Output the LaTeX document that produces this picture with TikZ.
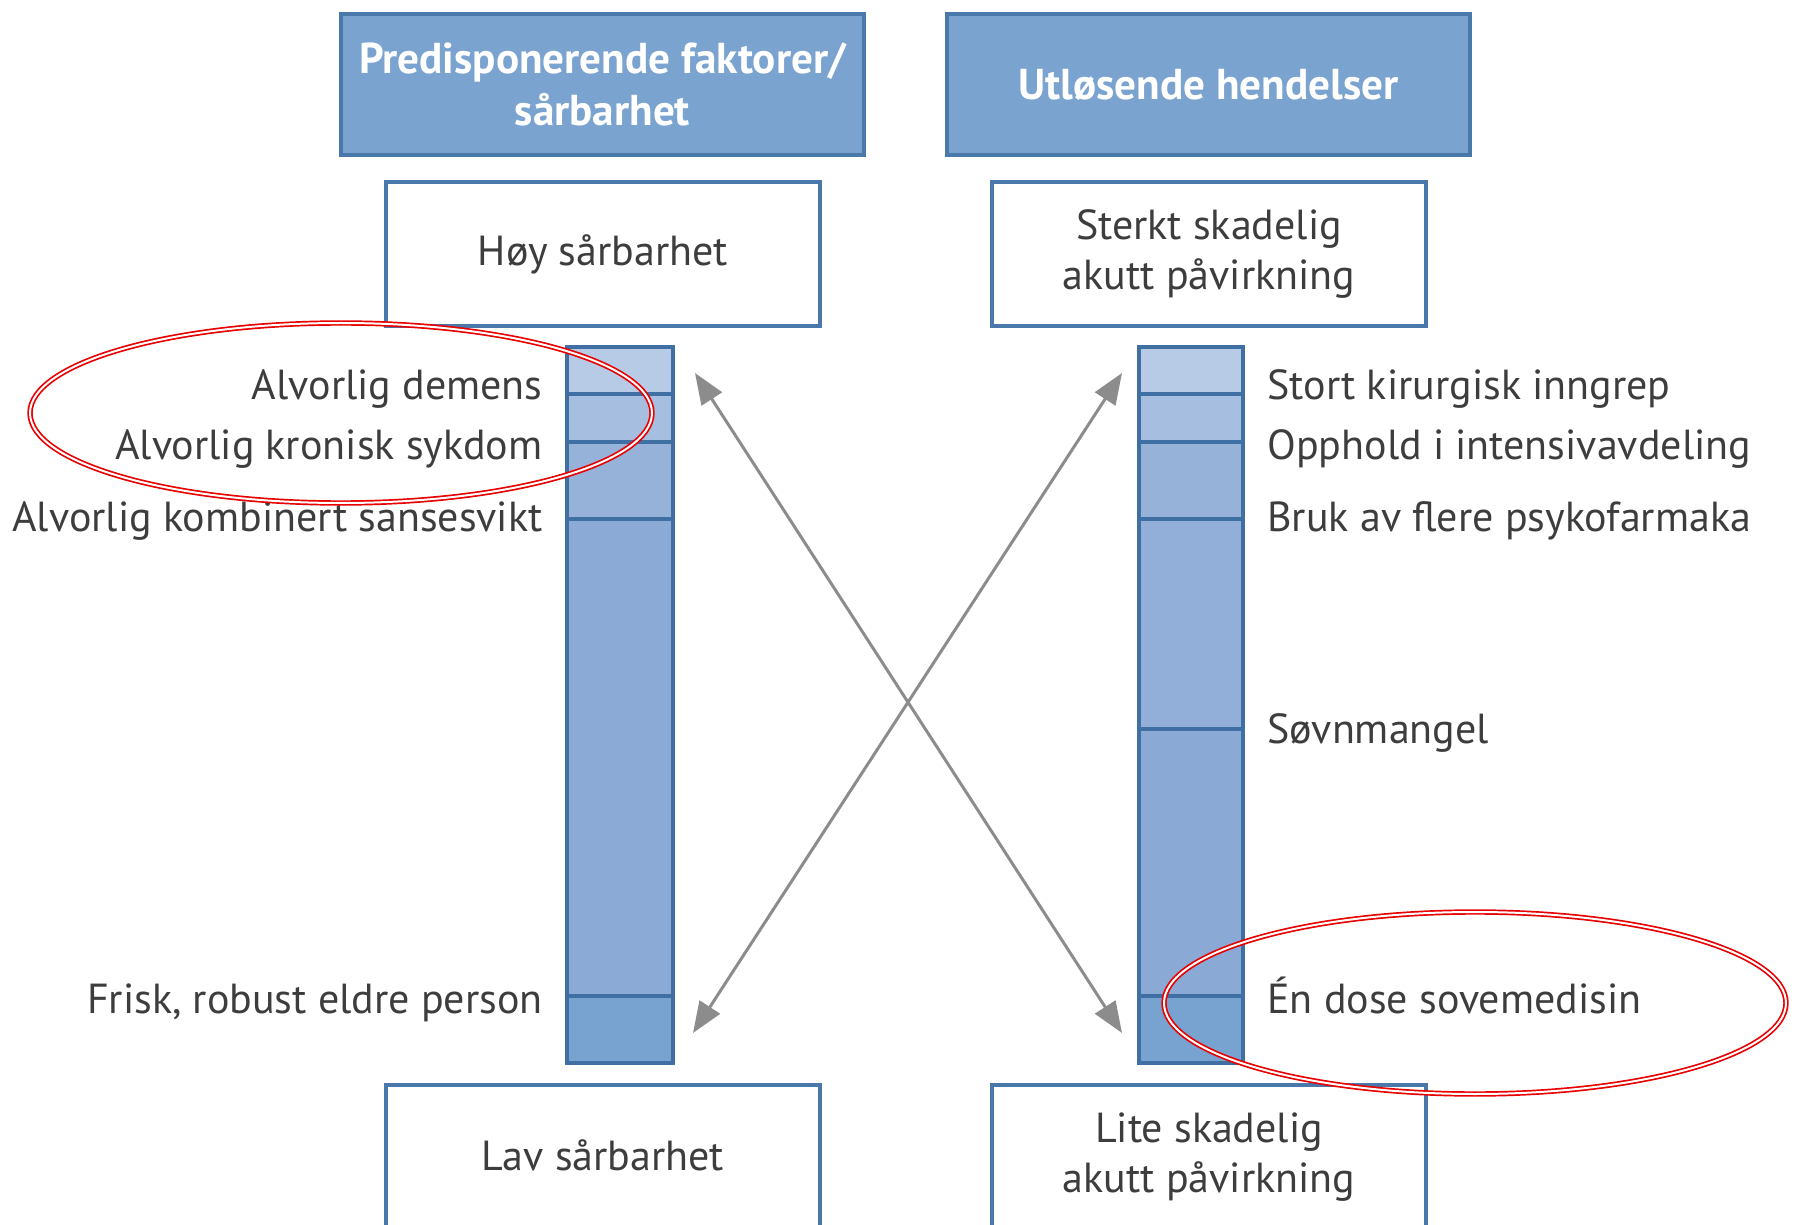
\documentclass[tikz,border=0pt]{standalone}
\usepackage{fontspec}
\setmainfont{PT Sans}
\usetikzlibrary{arrows.meta}
\definecolor{hdrfill}{HTML}{7AA3D0}
\definecolor{hdrdraw}{HTML}{4A78AA}
\definecolor{boxdraw}{HTML}{4A78AA}
\definecolor{barline}{HTML}{3F6FA3}
\definecolor{segA}{HTML}{B7CAE6}
\definecolor{segB}{HTML}{A6BEE0}
\definecolor{segC}{HTML}{96B2D9}
\definecolor{segD}{HTML}{8BABD6}
\definecolor{segDa}{HTML}{91AFD8}
\definecolor{segDb}{HTML}{8AAAD5}
\definecolor{segE}{HTML}{78A2D0}
\definecolor{txt}{HTML}{3D3D3D}
\definecolor{arrowgray}{HTML}{8C8C8C}
\definecolor{ringred}{HTML}{E80000}
\begin{document}
\begin{tikzpicture}[x=0.5pt,y=-0.5pt,
 hdr/.style={draw=hdrdraw, fill=hdrfill, line width=2pt, minimum width=261.5pt, minimum height=70.5pt, text=white, font=\fontsize{21.6}{26}\selectfont\bfseries, align=center, inner sep=0pt},
 lvlbox/.style={draw=boxdraw, fill=white, line width=2pt, minimum width=217pt, minimum height=72pt, text=txt, font=\fontsize{21}{25}\selectfont, align=center, inner sep=0pt},
 lbl/.style={text=txt, font=\fontsize{21}{26}\selectfont, inner sep=0pt},
 seg/.style={draw=barline, line width=2pt},
 link/.style={draw=arrowgray, line width=1.5pt, {Triangle[length=15.5pt,width=12pt]}-{Triangle[length=15.5pt,width=12pt]}},
 ring/.style={draw=ringred, line width=0.85pt, double=white, double distance=1pt}
]
\useasboundingbox (0,0) rectangle (1796,1225);

% headers
\node[hdr] (h1) at (602.5,84.5) {Predisponerende faktorer/\\sårbarhet};
\node[hdr] (h2) at (1208.5,84.5) {Utløsende hendelser};

% level boxes
\node[lvlbox] (hoy) at (603,254) {\raisebox{-1.5pt}{Høy sårbarhet}};
\node[lvlbox] (sterkt) at (1209,254) {\raisebox{-1.5pt}{Sterkt skadelig}\\\raisebox{-1.5pt}{akutt påvirkning}};
\node[lvlbox] (lav) at (603,1157) {\raisebox{1.5pt}{Lav sårbarhet}};
\node[lvlbox] (lite) at (1209,1157) {Lite skadelig\\akutt påvirkning};

% left bar
\fill[segA] (567,347) rectangle (673,394);
\fill[segB] (567,394) rectangle (673,442);
\fill[segC] (567,442) rectangle (673,519);
\fill[segD] (567,519) rectangle (673,996);
\fill[segE] (567,996) rectangle (673,1063);
\foreach \yy in {394,442,519,996} \draw[seg] (567,\yy) -- (673,\yy);
\draw[seg] (567,347) rectangle (673,1063);

% right bar
\fill[segA] (1139,347) rectangle (1243,394);
\fill[segB] (1139,394) rectangle (1243,442);
\fill[segC] (1139,442) rectangle (1243,519);
\fill[segDa] (1139,519) rectangle (1243,729);
\fill[segDb] (1139,729) rectangle (1243,996);
\fill[segE] (1139,996) rectangle (1243,1063);
\foreach \yy in {394,442,519,729,996} \draw[seg] (1139,\yy) -- (1243,\yy);
\draw[seg] (1139,347) rectangle (1243,1063);

% arrows
\coordinate (a1s) at (695,373);
\coordinate (a1e) at (1122,1033);
\coordinate (a2s) at (1122,373);
\coordinate (a2e) at (693,1033);
\draw[link] (a1s) -- (a1e);
\draw[link] (a2s) -- (a2e);

% left labels
\node[lbl, anchor=base east] (l1) at (543,400) {Alvorlig demens};
\node[lbl, anchor=base east] (l2) at (543,459) {Alvorlig kronisk sykdom};
\node[lbl, anchor=base east] (l3) at (543,531) {Alvorlig kombinert sansesvikt};
\node[lbl, anchor=base east] (l4) at (543,1013) {Frisk, robust eldre person};

% right labels
\node[lbl, anchor=base west] (r1) at (1267,400) {Stort kirurgisk inngrep};
\node[lbl, anchor=base west] (r2) at (1267,459) {Opphold i intensivavdeling};
\node[lbl, anchor=base west] (r3) at (1267,531) {Bruk av flere psykofarmaka};
\node[lbl, anchor=base west] (r4) at (1267,743) {Søvnmangel};
\node[lbl, anchor=base west] (r5) at (1267,1013) {Én dose sovemedisin};

% red rings
\draw[ring] (341,413) ellipse [x radius=155.5pt, y radius=45pt];
\draw[ring] (1475,1003) ellipse [x radius=155.5pt, y radius=45.5pt];
\end{tikzpicture}
\end{document}
